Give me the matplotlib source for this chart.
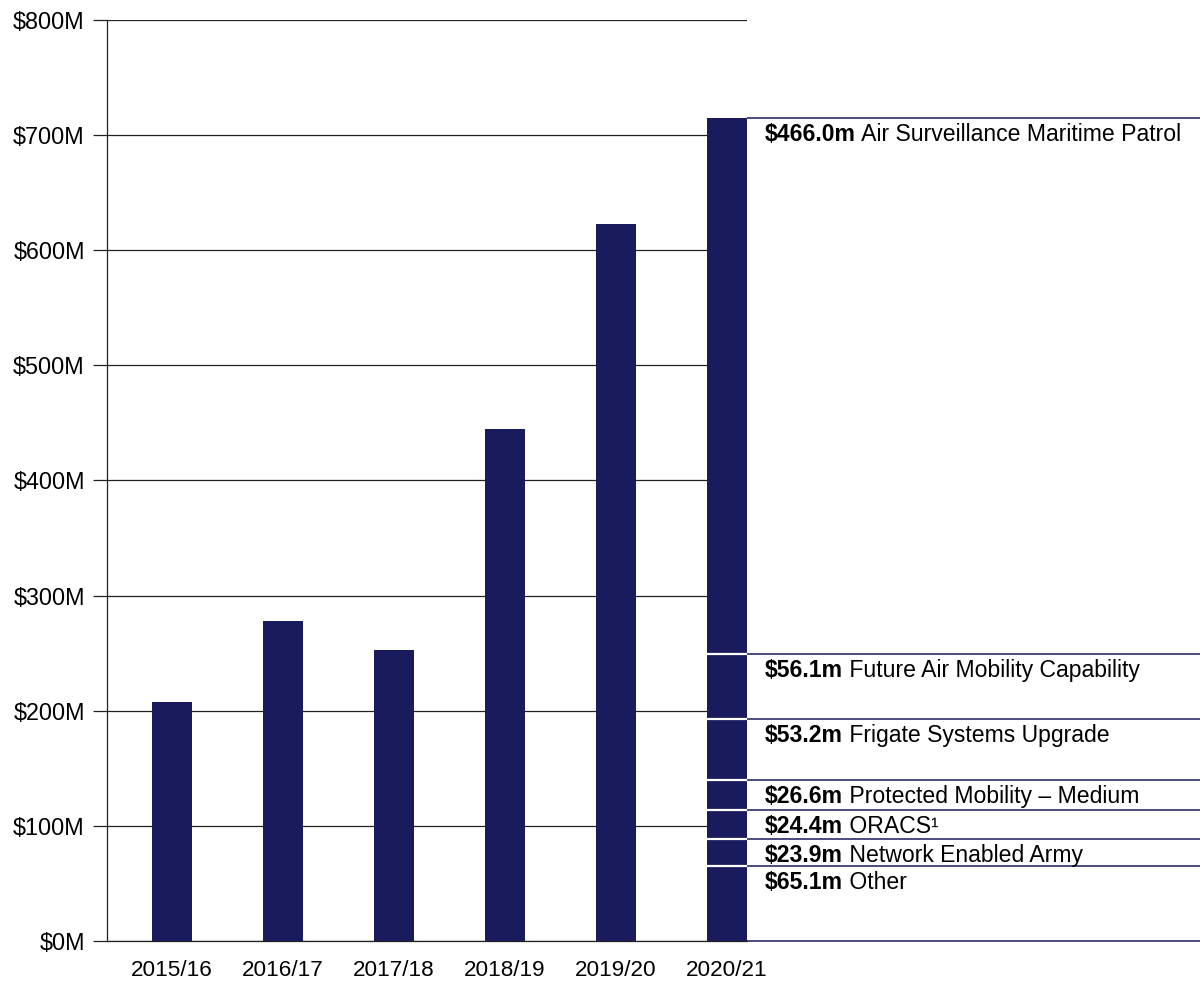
import matplotlib
matplotlib.use("Agg")
import matplotlib.pyplot as plt
import matplotlib.transforms as mtransforms

plt.rcParams['font.family'] = ['Liberation Sans', 'DejaVu Sans']

years = ['2015/16', '2016/17', '2017/18', '2018/19', '2019/20', '2020/21']
totals = [207.7, 278.0, 252.7, 444.9, 622.9]  # earlier years, $M

# 2020/21 split, bottom to top
seg_values = [65.1, 23.9, 24.4, 26.6, 53.2, 56.1, 466.0]
seg_amounts = ['$65.1m', '$23.9m', '$24.4m', '$26.6m', '$53.2m', '$56.1m', '$466.0m']
seg_names = ['Other', 'Network Enabled Army', 'ORACS\u00b9', 'Protected Mobility \u2013 Medium',
             'Frigate Systems Upgrade', 'Future Air Mobility Capability',
             'Air Surveillance Maritime Patrol']

yticks = [0, 100, 200, 300, 400, 500, 600, 700, 800]
ytick_labels = ['$%dM' % v for v in yticks]

navy = '#1a1b5c'
W, H = 1202, 984
fig = plt.figure(figsize=(W / 100, H / 100), dpi=100)
ax = fig.add_axes([107 / W, 43 / H, (747 - 107) / W, (941 - 20) / H])

bw = 0.36
x = list(range(len(years)))
ax.bar(x[:-1], totals, width=bw, color=navy, zorder=3)

# stacked last bar
bottom = 0
tops = []
for v in seg_values:
    ax.bar(x[-1], v, bottom=bottom, width=bw, color=navy, linewidth=0, zorder=3)
    bottom += v
    tops.append(bottom)
# white separators inside the bar
ax.hlines(tops[:-1], x[-1] - bw / 2, x[-1] + bw / 2, colors='white', lw=1.6, zorder=4)

# navy rules to the right
xr0 = x[-1] + bw / 2
xr1 = (1200 - 172) / 111
ax.hlines([0] + tops, xr0, xr1, colors=navy, lw=1.1, clip_on=False, zorder=2)

# labels under each rule
x_lab = (765 - 172) / 111
off = mtransforms.offset_copy(ax.transData, fig=fig, x=0, y=-23, units='dots')
for top, amt, name in zip(tops, seg_amounts, seg_names):
    t = ax.text(x_lab, top, amt, transform=off, fontsize=16.6, fontweight='bold',
                ha='left', va='baseline', clip_on=False)
    ax.annotate(' ' + name, xy=(1, 0), xycoords=t, fontsize=16.6,
                ha='left', va='bottom', annotation_clip=False)

ax.set_xlim(-65 / 111, x[-1] + bw / 2)
ax.set_ylim(0, 800)
ax.set_yticks(yticks)
ax.set_yticklabels(ytick_labels, fontsize=16.8)
ax.set_xticks(x)
ax.set_xticklabels(years, fontsize=16.2)
ax.tick_params(axis='y', length=10, width=0.9, pad=6, color='#222222')
ax.tick_params(axis='x', length=0, pad=14)
ax.grid(axis='y', color='#222222', lw=0.9, zorder=0)
ax.set_axisbelow(True)
for s in ['top', 'right']:
    ax.spines[s].set_visible(False)
ax.spines['left'].set_color('#222222')
ax.spines['left'].set_linewidth(0.9)
ax.spines['bottom'].set_color('#222222')
ax.spines['bottom'].set_linewidth(0.9)

fig.savefig('out.png', dpi=100)
